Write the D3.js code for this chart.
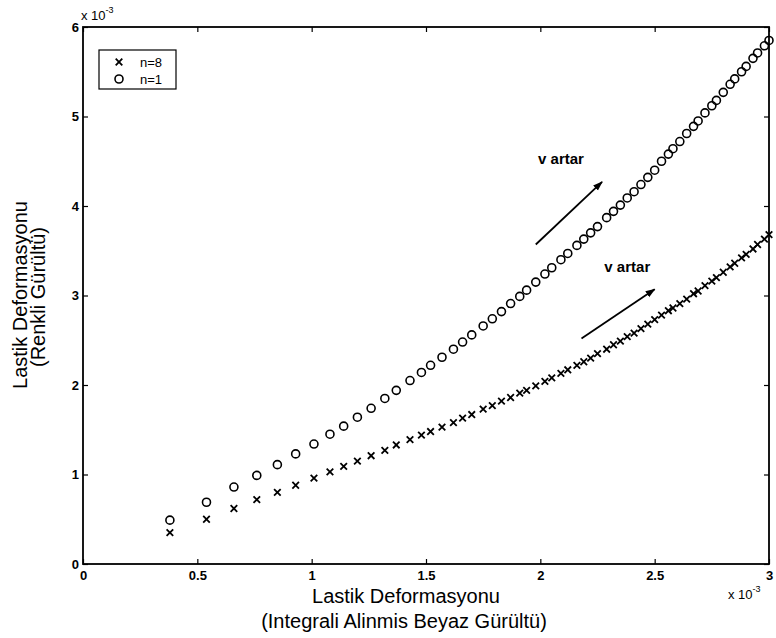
<!DOCTYPE html>
<html>
<head>
<meta charset="utf-8">
<script src="https://cdn.jsdelivr.net/npm/d3@7"></script>
<style>
  body { margin: 0; background: #fff; }
  svg { font-family: "Liberation Sans", Arial, sans-serif; }
</style>
</head>
<body>
<svg width="776" height="638"></svg>
<script>
// x values (x 10^-3) - both series share them
const xVals = [0.38, 0.54, 0.66, 0.76, 0.85, 0.93, 1.01, 1.08, 1.14, 1.20,
  1.26, 1.32, 1.37, 1.43, 1.48, 1.52, 1.57, 1.62, 1.66, 1.70,
  1.75, 1.79, 1.83, 1.87, 1.91, 1.94, 1.98, 2.02, 2.05, 2.09,
  2.12, 2.16, 2.19, 2.22, 2.25, 2.29, 2.32, 2.35, 2.38, 2.41,
  2.44, 2.47, 2.50, 2.53, 2.56, 2.58, 2.61, 2.64, 2.67, 2.69,
  2.72, 2.75, 2.77, 2.80, 2.83, 2.85, 2.88, 2.90, 2.93, 2.95,
  2.98, 3.00];

// n=8 (crosses)
const yN8 = [0.35, 0.50, 0.62, 0.72, 0.80, 0.88, 0.96, 1.03, 1.09, 1.15,
  1.21, 1.27, 1.33, 1.39, 1.44, 1.48, 1.53, 1.58, 1.63, 1.67,
  1.73, 1.77, 1.82, 1.86, 1.91, 1.94, 1.99, 2.04, 2.08, 2.13,
  2.17, 2.22, 2.26, 2.30, 2.35, 2.40, 2.45, 2.49, 2.54, 2.58,
  2.63, 2.68, 2.73, 2.78, 2.83, 2.86, 2.91, 2.96, 3.02, 3.05,
  3.11, 3.16, 3.20, 3.26, 3.32, 3.36, 3.42, 3.46, 3.52, 3.57,
  3.63, 3.68];

// n=1 (circles)
const yN1 = [0.49, 0.69, 0.86, 0.99, 1.11, 1.23, 1.34, 1.45, 1.54, 1.64,
  1.74, 1.85, 1.94, 2.05, 2.14, 2.22, 2.31, 2.40, 2.48, 2.56,
  2.66, 2.74, 2.82, 2.91, 2.99, 3.06, 3.15, 3.24, 3.31, 3.40,
  3.47, 3.56, 3.63, 3.70, 3.77, 3.87, 3.94, 4.01, 4.09, 4.16,
  4.24, 4.32, 4.40, 4.50, 4.58, 4.64, 4.72, 4.81, 4.89, 4.95,
  5.04, 5.12, 5.18, 5.27, 5.36, 5.42, 5.50, 5.56, 5.65, 5.71,
  5.79, 5.85];

const xTicks = [0, 0.5, 1, 1.5, 2, 2.5, 3];
const yTicks = [0, 1, 2, 3, 4, 5, 6];
const legendLabels = ["n=8", "n=1"];

const svg = d3.select("svg");
const margin = { top: 27, right: 7, bottom: 74, left: 83 };
const width = 776 - margin.left - margin.right,
      height = 638 - margin.top - margin.bottom;

const x = d3.scaleLinear().domain([0, 3]).range([0, width]);
const y = d3.scaleLinear().domain([0, 6]).range([height, 0]);

const g = svg.append("g").attr("transform", `translate(${margin.left},${margin.top})`);

// axes, matlab style ticks pointing inward
const tickFont = g => g.selectAll("text")
  .attr("font-size", 13).attr("font-weight", "bold").attr("fill", "#000")
  .attr("font-family", "'Liberation Sans', Arial, sans-serif");

g.append("g").attr("transform", `translate(0,${height})`)
  .call(d3.axisBottom(x).tickValues(xTicks).tickFormat(d3.format("")).tickSizeInner(-5).tickSizeOuter(0).tickPadding(7))
  .call(a => a.select(".domain").remove())
  .call(tickFont);
g.append("g")
  .call(d3.axisLeft(y).tickValues(yTicks).tickFormat(d3.format("")).tickSizeInner(-5).tickSizeOuter(0).tickPadding(4))
  .call(a => a.select(".domain").remove())
  .call(tickFont);
g.append("g")
  .call(d3.axisTop(x).tickValues(xTicks).tickFormat("").tickSizeInner(-5).tickSizeOuter(0))
  .call(a => a.select(".domain").remove());
g.append("g").attr("transform", `translate(${width},0)`)
  .call(d3.axisRight(y).tickValues(yTicks).tickFormat("").tickSizeInner(-5).tickSizeOuter(0))
  .call(a => a.select(".domain").remove());
g.selectAll(".tick line").attr("stroke", "#000").attr("stroke-width", 1.2);

// box
g.append("rect").attr("width", width).attr("height", height)
  .attr("fill", "none").attr("stroke", "#000").attr("stroke-width", 1.8);

// circles n=1
g.selectAll(".c1").data(xVals).enter().append("circle")
  .attr("class", "c1")
  .attr("cx", d => x(d))
  .attr("cy", (d, i) => y(yN1[i]))
  .attr("r", 4)
  .attr("fill", "none").attr("stroke", "#000").attr("stroke-width", 1.6);

// crosses n=8
const cross = d3.symbol().type(d3.symbolX).size(30);
g.selectAll(".c8").data(xVals).enter().append("path")
  .attr("class", "c8")
  .attr("d", cross)
  .attr("transform", (d, i) => `translate(${x(d)},${y(yN8[i])})`)
  .attr("fill", "none").attr("stroke", "#000").attr("stroke-width", 1.8);

// arrows with "v artar"
svg.append("defs").append("marker")
  .attr("id", "head").attr("viewBox", "0 0 10 10").attr("refX", 9).attr("refY", 5)
  .attr("markerWidth", 10).attr("markerHeight", 10).attr("markerUnits", "userSpaceOnUse")
  .attr("orient", "auto")
  .append("path").attr("d", "M0,1.5 L10,5 L0,8.5 Z").attr("fill", "#000");

const arrows = [
  { x1: 1.98, y1: 3.57, x2: 2.27, y2: 4.27, tx: 1.99, ty: 4.47 },
  { x1: 2.18, y1: 2.52, x2: 2.5, y2: 3.07, tx: 2.28, ty: 3.26 }
];
arrows.forEach(a => {
  g.append("line")
    .attr("x1", x(a.x1)).attr("y1", y(a.y1))
    .attr("x2", x(a.x2)).attr("y2", y(a.y2))
    .attr("stroke", "#000").attr("stroke-width", 1.8)
    .attr("marker-end", "url(#head)");
  g.append("text").attr("x", x(a.tx)).attr("y", y(a.ty))
    .attr("font-size", 15).attr("font-weight", "bold").text("v artar");
});

// legend
const leg = g.append("g").attr("transform", "translate(16,23)");
leg.append("rect").attr("width", 77).attr("height", 39)
  .attr("fill", "#fff").attr("stroke", "#000").attr("stroke-width", 1.2);
leg.append("path").attr("d", d3.symbol().type(d3.symbolX).size(30))
  .attr("transform", "translate(20,12)").attr("stroke", "#000").attr("stroke-width", 1.8);
leg.append("circle").attr("cx", 20).attr("cy", 29).attr("r", 4)
  .attr("fill", "none").attr("stroke", "#000").attr("stroke-width", 1.6);
leg.selectAll("text.lab").data(legendLabels).enter().append("text")
  .attr("class", "lab")
  .attr("x", 41).attr("y", (d, i) => 16.5 + i * 17)
  .attr("font-size", 13).text(d => d);

// exponent labels
function expo(px, py) {
  const t = svg.append("text").attr("x", px).attr("y", py).attr("font-size", 13);
  t.append("tspan").text("x 10");
  t.append("tspan").attr("dy", -7).attr("font-size", 9).text("-3");
}
expo(81, 20);
expo(728, 599);

// axis titles
svg.append("text").attr("x", 406).attr("y", 603).attr("text-anchor", "middle")
  .attr("font-size", 20).text("Lastik Deformasyonu");
svg.append("text").attr("x", 404).attr("y", 628).attr("text-anchor", "middle")
  .attr("font-size", 20).text("(Integrali Alinmis Beyaz Gürültü)");

svg.append("text").attr("transform", "translate(27,295) rotate(-90)").attr("text-anchor", "middle")
  .attr("font-size", 20).text("Lastik Deformasyonu");
svg.append("text").attr("transform", "translate(45,297) rotate(-90)").attr("text-anchor", "middle")
  .attr("font-size", 20).text("(Renkli Gürültü)");
</script>
</body>
</html>
